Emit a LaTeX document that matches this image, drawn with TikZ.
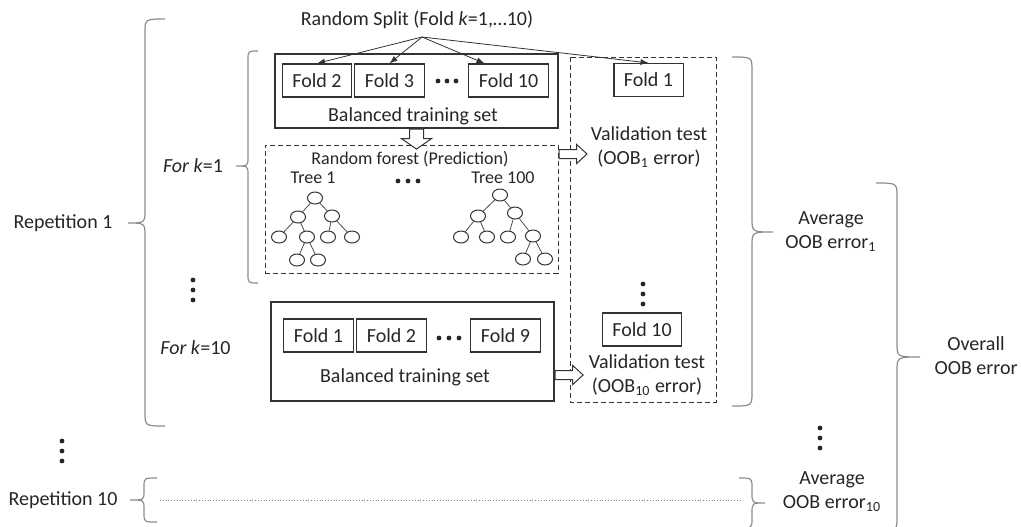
\documentclass[tikz,border=0pt]{standalone}
\usepackage{fontspec}
\setmainfont{Carlito}
\usetikzlibrary{arrows.meta,positioning,shapes.geometric,shapes.arrows,calc}

\tikzset{
  fold/.style={draw=black!80, line width=0.6pt, minimum height=16.5pt, inner xsep=5pt, inner ysep=0pt},
  setbox/.style={draw=black!80, line width=0.6pt, inner sep=0pt},
  dashbox/.style={draw=black!80, line width=0.5pt, dash pattern=on 2.5pt off 1.5pt},
  leaf/.style={ellipse, draw=black!80, line width=0.5pt, minimum width=7.5pt, minimum height=6pt, inner sep=0pt},
  twig/.style={black!70, line width=0.4pt},
  splitline/.style={black!80, line width=0.4pt, -{Latex[length=4pt,width=3pt]}},
  openarrow/.style={single arrow, draw=black!80, fill=white, line width=0.5pt, inner xsep=0pt, inner ysep=2pt,
    minimum height=14pt, single arrow head extend=2.5pt, single arrow tip angle=85},
  curly/.style={black!45, line width=0.6pt},
  lbl/.style={inner sep=0pt, align=center},
  small/.style={font=\fontsize{9}{11}\selectfont},
}

% end x, spine x, tip x, top y, tip y, bottom y, curl length
\newcommand{\curlybrace}[7]{%
  \draw[curly] (#1,#4) .. controls (#2,#4) .. (#2,#4+#7) -- (#2,#5-#7)
    .. controls (#2,#5) .. (#3,#5) .. controls (#2,#5) .. (#2,#5+#7)
    -- (#2,#6-#7) .. controls (#2,#6) .. (#1,#6);}

\begin{document}
\begin{tikzpicture}[x=0.5pt, y=-0.5pt, font=\fontsize{10}{12}\selectfont, text=black!85]
\useasboundingbox (0,0) rectangle (1021,526);

% random split into folds
\node[lbl] (title) at (417,20) {Random Split (Fold \textit{k}=1,\ldots10)};
\coordinate (fork) at (422,37);

% k=1: training folds
\node[setbox, minimum width=141.5pt, minimum height=37pt] (trainA) at (416.5,91) {};
\node[fold] (fa2) at (317,80.5) {Fold 2};
\node[fold] (fa3) at (389.5,80.5) {Fold 3};
\node[fold] (fa10) at (508.5,80.5) {Fold 10};
\foreach \x in {438,447,456} \fill[black!85] (\x,81) circle (1.2pt);
\node[lbl] (balA) at (413,116) {Balanced training set};

% validation column
\draw[dashbox] (570,57) rectangle (716,402);
\node[fold] (va1) at (648.5,80) {Fold 1};

\foreach \t/\s in {fa2/0pt, fa3/0pt, fa10/-12pt, va1/0pt}
  \draw[splitline] (fork) -- ([xshift=\s]\t.north);

% random forest
\node[setbox, dashbox, minimum width=146.5pt, minimum height=64pt] (forest) at (411.5,209) {};
\node[lbl, small] (rf) at (410,159) {Random forest (Prediction)};
\node[lbl, small] (tr1) at (313,178) {Tree 1};
\node[lbl, small] (tr100) at (503,178) {Tree 100};
\foreach \x in {398,408,418} \fill[black!85] (\x,181) circle (1.2pt);

\foreach \n/\x/\y in {a/315/198, b/298/217, c/332/216, d/279/237, e/307/237,
                      f/328/237, g/352/237, h/297/260, i/318/260}
  \node[leaf] (t1\n) at (\x,\y) {};
\foreach \u/\v in {a/b, a/c, b/d, b/e, c/f, c/g, e/h, e/i}
  \draw[twig] (t1\u) -- (t1\v);

\foreach \n/\x/\y in {a/500/195, b/478/216, c/515/213, d/461/237, e/487/237,
                      f/508/237, g/533/236, h/523/259, i/545/259}
  \node[leaf] (tc\n) at (\x,\y) {};
\foreach \u/\v in {a/b, a/c, b/d, b/e, c/f, c/g, g/h, g/i}
  \draw[twig] (tc\u) -- (tc\v);

\node[openarrow, rotate=-90, anchor=tail, minimum height=10pt, inner ysep=3.25pt,
      single arrow head extend=4pt, single arrow tip angle=110] (down) at (trainA.south) {};

\coordinate (lvA) at (0,154);
\node[openarrow, anchor=tail] (outA) at (forest.east |- lvA) {};
\node[lbl] (valA) at (649,147.5) {Validation test\\(OOB\textsubscript{1} error)};

% k=10
\node[setbox, minimum width=141.5pt, minimum height=49.5pt] (trainB) at (412.5,351.5) {};
\node[fold] (fb1) at (318.5,335.5) {Fold 1};
\node[fold] (fb2) at (391.5,335.5) {Fold 2};
\node[fold] (fb9) at (505.5,335.5) {Fold 9};
\foreach \x in {439,449,459} \fill[black!85] (\x,338) circle (1.2pt);
\node[lbl] (balB) at (405,377) {Balanced training set};
\node[fold] (vb10) at (642,329.5) {Fold 10};

\coordinate (lvB) at (0,375);
\node[openarrow, anchor=tail] (outB) at (trainB.east |- lvB) {};
\node[lbl] (valB) at (647,375) {Validation test\\(OOB\textsubscript{10} error)};

% vertical dots
\foreach \x/\y in {193/290, 62/451, 643/294, 820/438}
  \foreach \d in {-10,0,10}
    \fill[black!85] (\x,\y+\d) circle (1.2pt);

% labels
\node[lbl] (rep1) at (63,223) {Repetition 1};
\node[lbl] (k1) at (193,166) {\textit{For k}=1};
\node[lbl] (k10) at (195.5,348) {\textit{For k}=10};
\node[lbl] (rep10) at (63,500) {Repetition 10};
\node[lbl] (avg1) at (831,232) {Average\\OOB error\textsubscript{1}};
\node[lbl] (avg10) at (832,491.5) {Average\\OOB error\textsubscript{10}};
\node[lbl] (overall) at (976,356) {Overall\\OOB error};

% repetition 10 (not expanded)
\coordinate (dl) at (160,500);
\coordinate (dr) at (742,500);
\draw[black!50, line width=0.4pt, densely dotted] (dl) -- (dr);

% braces
\curlybrace{165}{145}{128}{19}{223}{426}{14}
\curlybrace{258}{248}{236}{51}{166}{283}{9}
\curlybrace{157}{144}{130}{478}{500}{522}{9}
\curlybrace{732}{752}{773}{57}{232}{406}{14}
\curlybrace{739}{752}{765}{478}{503}{528}{10}
\curlybrace{876}{897}{920}{183}{357}{531}{14}
\end{tikzpicture}
\end{document}
